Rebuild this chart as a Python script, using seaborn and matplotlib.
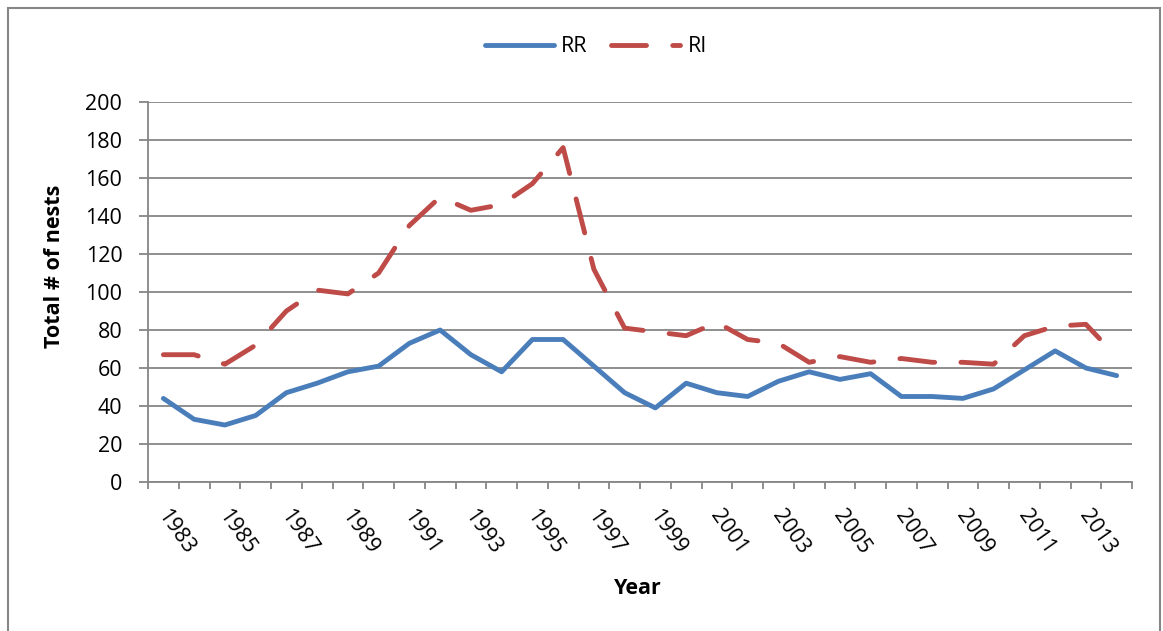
import numpy as np
import pandas as pd
import matplotlib
matplotlib.use("Agg")
import matplotlib.pyplot as plt
from matplotlib.transforms import ScaledTranslation
from matplotlib.patches import Rectangle
import seaborn as sns

years = list(range(1983, 2015))
rr = [44, 33, 30, 35, 47, 52, 58, 61, 73, 80, 67, 58, 75, 75, 61, 47,
      39, 52, 47, 45, 53, 58, 54, 57, 45, 45, 44, 49, 59, 69, 60, 56]
ri = [67, 67, 62, 72, 90, 101, 99, 110, 135, 150, 143, 146, 157, 176, 112, 81,
      79, 77, 84, 75, 73, 63, 66, 63, 65, 63, 63, 62, 77, 82, 83, 66]
series_names = ["RR", "RI"]
tick_years = [str(y) for y in range(1983, 2015, 2)]

sns.set_theme(style="white")
plt.rcParams["font.family"] = ["Open Sans", "DejaVu Sans"]
plt.rcParams["text.color"] = "black"
plt.rcParams["xtick.labelcolor"] = "black"
plt.rcParams["ytick.labelcolor"] = "black"

GRAY = "#868686"
BLUE = "#4A7EBB"
RED = "#BE4B48"

df = pd.DataFrame({
    "idx": list(range(len(years))) * 2,
    "value": rr + ri,
    "series": ["RR"] * len(years) + ["RI"] * len(years),
})

W, H = 1163, 631
fig = plt.figure(figsize=(W / 100, H / 100), dpi=100)
ax = fig.add_axes([148 / W, 1 - 482 / H, (1132 - 148) / W, (482 - 102) / H])

sns.lineplot(data=df, x="idx", y="value", hue="series", style="series",
             palette={"RR": BLUE, "RI": RED},
             dashes={"RR": "", "RI": (7.2, 5.4)},
             linewidth=3.5, sort=False, ax=ax, legend=False)
for ln in ax.lines:
    ln.set_dash_capstyle("round")
    ln.set_solid_capstyle("round")
    ln.set_solid_joinstyle("round")
    ln.set_dash_joinstyle("round")

ax.set_xlim(-0.5, len(years) - 0.5)
ax.set_ylim(0, 200)
ax.set_yticks(np.arange(0, 201, 20))
ax.yaxis.grid(True, color=GRAY, linewidth=1.3)
ax.xaxis.grid(False)
ax.set_axisbelow(True)

ax.set_xticks(np.arange(0, len(years), 2))
ax.set_xticklabels(tick_years, rotation=-55, ha="center", va="top", fontsize=15.5, color="black")
ax.set_xticks(np.arange(-0.5, len(years), 1), minor=True)
ax.tick_params(axis="x", which="major", length=0, pad=17)
ax.tick_params(axis="x", which="minor", length=5, width=1.3, color=GRAY, direction="out", bottom=True)
ax.tick_params(axis="y", which="major", length=6.5, width=1.3, color=GRAY, direction="out",
               left=True, pad=12, labelsize=15.5, labelcolor="black")
for lab in ax.get_xticklabels():
    lab.set_transform(lab.get_transform() + ScaledTranslation(12 / 100, 0, fig.dpi_scale_trans))

for s in ["top", "right"]:
    ax.spines[s].set_visible(False)
for s in ["left", "bottom"]:
    ax.spines[s].set_color(GRAY)
    ax.spines[s].set_linewidth(1.3)

ax.set_xlabel("")
ax.set_ylabel("")
fig.text(55 / W, 1 - 266 / H, "Total # of nests", rotation=90, ha="center", va="center",
         fontsize=15.5, fontweight="bold", color="black")
fig.text(638 / W, 1 - 588 / H, "Year", ha="center", va="center",
         fontsize=15.5, fontweight="bold", color="black")

handles = ax.lines[:2]
fig.legend(handles, series_names, loc="center", bbox_to_anchor=(596 / W, 1 - 47 / H),
           ncol=2, frameon=False, fontsize=15.5, handlelength=3.2, handletextpad=0.35,
           columnspacing=1.1, labelcolor="black")

fig.patches.append(Rectangle((8 / W, -0.05), (1160 - 8) / W, 1 - 8 / H + 0.05,
                             transform=fig.transFigure, fill=False, edgecolor=GRAY,
                             linewidth=1.5))

fig.savefig("out.png", dpi=100)
